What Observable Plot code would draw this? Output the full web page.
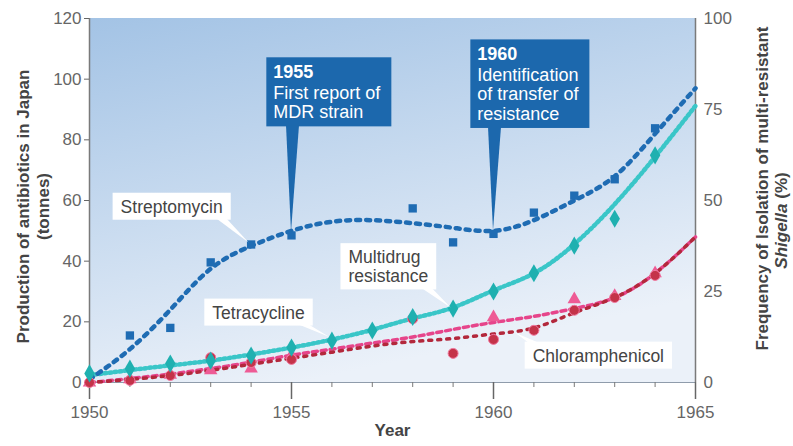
<!DOCTYPE html>
<html><head><meta charset="utf-8">
<script src="https://cdn.jsdelivr.net/npm/d3@7"></script>
<script src="https://cdn.jsdelivr.net/npm/@observablehq/plot@0.6"></script>
<style>
body{margin:0;background:#fff;}
#chart svg text{font-family:"Liberation Sans",Arial,Helvetica,sans-serif;}
</style></head><body><div id="chart"></div>
<script>
// ---------- data ----------
const years = [1950,1951,1952,1953,1954,1955,1956,1957,1958,1959,1960,1961,1962,1963,1964,1965];
const majorYears = [1950,1955,1960,1965];
const leftTicks = [0,20,40,60,80,100,120];
const rightTicks = [0,25,50,75,100];

// fitted trend lines, one value per year (tonnes; multidrug in %)
const streptomycinTrend = [1,11,24,37.5,45,50,53,53.5,52.5,51,50,53.5,60,68,82,97];
const multidrugTrendPct = [2,3.4,4.7,6,7.7,9.6,11.8,14.5,17.6,20.6,25.3,30,38,49,62,76];
const tetracyclineTrend = [0,1.3,2.8,4.6,6.7,9,11,13,15,17.5,19.8,21.8,24.4,28,36,48];
const chloramphenicolTrend = [0,1,2.3,4,6,8,10,12,13.5,14.5,16,18,23,28,36,48];

// observed points
const strepYears = [1951,1952,1953,1954,1955,1958,1959,1960,1961,1962,1963,1964];
const strepValues = [15.5,18,39.6,45.5,48.5,57.4,46.2,49,56,61.6,67,83.8];
const mdrYears = [1950,1951,1952,1953,1954,1955,1956,1957,1958,1959,1960,1961,1962,1963,1964];
const mdrPct = [2.5,3.8,5.2,6,7.4,9.6,11.5,14.3,18,20.3,25,30,37.6,45,62.4];
const tetraYears = [1950,1951,1952,1953,1954,1955,1960,1962,1963,1964];
const tetraValues = [0,1,2.5,4,4.6,9,21.5,27.4,28.5,36];
const chlorYears = [1950,1951,1952,1953,1954,1955,1958,1959,1960,1961,1962,1963,1964];
const chlorValues = [0,0.7,2.3,8.2,6.6,7.6,21,9.6,14.2,17.2,23.8,28,35.3];

// annotations
const labelText = ["Streptomycin","Multidrug\nresistance","Tetracycline","Chloramphenicol"];
const labelYear = [1950.77,1956.41,1953.04,1960.97];
const labelValue = [58,38.2,23.1,8.9];
const labelTargetYear = [1953.95,1958.95,1955.95,1960.55];
const labelTargetValue = [46,24.6,14.8,16.2];

const calloutHead = ["1955","1960"];
const calloutBody = ["First report of\nMDR strain","Identification\nof transfer of\nresistance"];
const calloutTextYear = [1954.55,1959.6];
const calloutTextTop = [104.5,110.4];
const calloutTargetYear = [1955,1960];
const calloutTargetValue = [49.5,50];

// ---------- styles ----------
const C = {strep:"#1f6cb3", mdr:"#1fb0b0", mdrLine:"#3ac6c8", tetra:"#e6458b", tetraDot:"#ee5b95", chlor:"#b3283c", chlorDot:"#c43349", callout:"#1c68ad", tick:"#666", title:"#444"};
const pct = v => v * 1.2;

function background(index, scales, values, dim) {
  const g = d3.create("svg:g");
  const grad = g.append("defs").append("linearGradient").attr("id","bgGrad")
    .attr("x1",0).attr("y1",0).attr("x2",0.35).attr("y2",1);
  grad.append("stop").attr("offset","0%").attr("stop-color","#a3c3e5");
  grad.append("stop").attr("offset","100%").attr("stop-color","#ebf1f9");
  g.append("rect").attr("x",dim.marginLeft).attr("y",dim.marginTop)
    .attr("width",dim.width-dim.marginLeft-dim.marginRight)
    .attr("height",dim.height-dim.marginTop-dim.marginBottom)
    .attr("fill","url(#bgGrad)");
  return g.node();
}

const chart = Plot.plot({
  width: 793, height: 446,
  marginLeft: 89, marginRight: 98, marginTop: 18, marginBottom: 64,
  x: {domain: [1950,1965]},
  y: {domain: [0,120]},
  style: {fontFamily: '"Liberation Sans",Arial,sans-serif', background: "#fff", overflow: "visible"},
  marks: [
    background,
    Plot.ruleY([0], {stroke:"#8f9cab", strokeWidth:1}),
    Plot.ruleX([1950,1965], {y1:0, y2:120, stroke:"#7a7a7a", strokeWidth:1.5}),
    Plot.axisX(years, {tickSize:5, tickFormat:()=>"", label:null, color:"#7a7a7a"}),
    Plot.axisX(majorYears, {tickSize:17, tickPadding:6, tickFormat:"d", label:null, fontSize:17, color:C.tick, strokeWidth:1.5}),
    Plot.axisY(leftTicks, {anchor:"left", tickSize:5, tickPadding:3, label:null, fontSize:17, color:C.tick}),
    Plot.axisY(rightTicks.map(pct), {anchor:"right", tickSize:0, tickPadding:8, tickFormat:d=>String(Math.round(d/1.2)), label:null, fontSize:17, color:C.tick}),

    Plot.line(years, {x: years, y: tetracyclineTrend, curve:"natural", stroke:C.tetra, strokeWidth:3.5, strokeDasharray:"5,4"}),
    Plot.line(years, {x: years, y: chloramphenicolTrend, curve:"natural", stroke:C.chlor, strokeWidth:3.5, strokeDasharray:"3,6"}),
    Plot.line(years, {x: years, y: multidrugTrendPct.map(pct), curve:"natural", stroke:C.mdrLine, strokeWidth:4.5, strokeDasharray:"2,3"}),
    Plot.line(years, {x: years, y: streptomycinTrend, curve:"natural", stroke:C.strep, strokeWidth:4.5, strokeDasharray:"4,6"}),

    Plot.dot(tetraYears, {x: tetraYears, y: tetraValues, symbol:"triangle", r:5, fill:C.tetraDot}),
    Plot.dot(chlorYears, {x: chlorYears, y: chlorValues, symbol:"circle", r:5, fill:C.chlorDot, stroke:"#f07aa0", strokeWidth:1}),
    Plot.dot(mdrYears, {x: mdrYears, y: mdrPct.map(pct), symbol:"diamond", r:5.5, fill:C.mdr}),
    Plot.dot(strepYears, {x: strepYears, y: strepValues, symbol:"square", r:4.7, fill:C.strep}),

    Plot.text(labelText, {x: labelYear, y: labelValue, textAnchor:"start", lineAnchor:"middle", fontSize:17.5, lineHeight:1.1, fill:"#444", ariaDescription:"note-labels"}),
    Plot.text(calloutHead, {x: calloutTextYear, y: calloutTextTop, textAnchor:"start", lineAnchor:"top", fontSize:18, fontWeight:"bold", fill:"white", ariaDescription:"callout-head"}),
    Plot.text(calloutBody, {x: calloutTextYear, y: calloutTextTop, dy:19.5, textAnchor:"start", lineAnchor:"top", fontSize:18, lineHeight:19.5/18, fill:"white", ariaDescription:"callout-body"}),

    Plot.text(["Production of antibiotics in Japan\n(tonnes)"], {frameAnchor:"left", textAnchor:"middle", dx:-57, dy:6, rotate:-90, fontSize:17, fontWeight:"bold", fill:C.title, lineHeight:1.18}),
    Plot.text(["Frequency of Isolation of multi-resistant"], {frameAnchor:"right", textAnchor:"middle", dx:67, dy:-12, rotate:-90, fontSize:17, fontWeight:"bold", fill:C.title}),
    Plot.text(["Shigella (%)"], {frameAnchor:"right", textAnchor:"middle", dx:86, dy:20, rotate:-90, fontSize:17, fontWeight:"bold", fill:C.title}),
    Plot.text(["Year"], {frameAnchor:"bottom", dy:53, fontSize:17, fontWeight:"bold", fill:C.title})
  ]
});

document.getElementById("chart").append(chart);

// ---------- post-processing: label boxes, callout boxes, italic ----------
const sR = chart.getBoundingClientRect();
const xs = chart.scale("x"), ys = chart.scale("y");
function rel(el) { const r = el.getBoundingClientRect(); return {x1:r.left-sR.left, y1:r.top-sR.top, x2:r.right-sR.left, y2:r.bottom-sR.top}; }
function groupFor(name) { return chart.querySelector(`g[aria-description="${name}"]`); }

const labelG = groupFor("note-labels");
if (labelG) {
  const labelLayer = document.createElementNS("http://www.w3.org/2000/svg","g");
  labelG.parentNode.insertBefore(labelLayer, labelG);
  d3.select(labelG).selectAll("text").each(function(_, i) {
    const b = rel(this);
    const box = {x1:b.x1-8, x2:b.x2+8, y1:b.y1-4, y2:b.y2+3};
    const tx = xs.apply(labelTargetYear[i]), ty = ys.apply(labelTargetValue[i]);
    const below = ty > box.y2;
    const yb = below ? box.y2 - 1 : box.y1 + 1;
    const right = tx > (box.x1 + box.x2) / 2;
    const xb = right ? [box.x2 - 14, box.x2 - 4] : [box.x1 + 4, box.x1 + 14];
    const L = d3.select(labelLayer);
    L.append("polygon").attr("points", `${xb[0]},${yb} ${xb[1]},${yb} ${tx},${ty}`).attr("fill","white");
    L.append("rect").attr("x",box.x1).attr("y",box.y1).attr("width",box.x2-box.x1).attr("height",box.y2-box.y1).attr("fill","white");
  });
}

const headG = groupFor("callout-head");
const bodyG = groupFor("callout-body");
if (headG && bodyG) {
  const calloutLayer = document.createElementNS("http://www.w3.org/2000/svg","g");
  headG.parentNode.insertBefore(calloutLayer, headG);
  const heads = headG.querySelectorAll("text"), bodies = bodyG.querySelectorAll("text");
  heads.forEach((h, i) => {
    const a = rel(h), b = rel(bodies[i]);
    const box = {x1:Math.min(a.x1,b.x1)-7, x2:Math.max(a.x2,b.x2)+10, y1:a.y1-5, y2:b.y2+4};
    const tx = xs.apply(calloutTargetYear[i]), ty = ys.apply(calloutTargetValue[i]);
    const L = d3.select(calloutLayer);
    L.append("rect").attr("x",box.x1).attr("y",box.y1).attr("width",box.x2-box.x1).attr("height",box.y2-box.y1).attr("fill",C.callout);
    L.append("polygon").attr("points", `${tx-5},${box.y2-1} ${tx+8},${box.y2-1} ${tx},${ty}`).attr("fill",C.callout);
  });
}

d3.select(chart).selectAll("text").filter(function(){ return this.textContent === "Shigella (%)"; }).each(function() {
  const t = d3.select(this);
  t.text(null);
  t.append("tspan").attr("font-style","italic").text("Shigella");
  t.append("tspan").text(" (%)");
});
</script></body></html>
